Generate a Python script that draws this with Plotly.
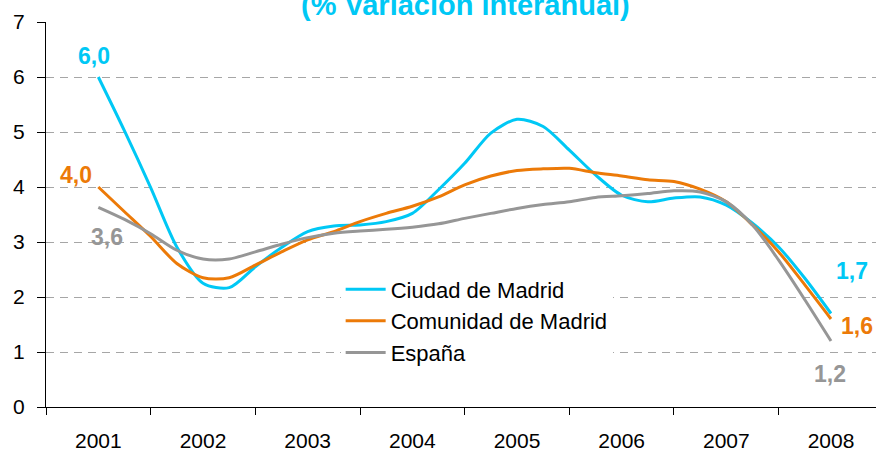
import plotly.graph_objects as go

years = ["2001", "2002", "2003", "2004", "2005", "2006", "2007", "2008"]
# quarterly observations, first at 2001 and last at 2008
quarters = [2001 + k / 4 for k in range(29)]

ciudad = [6.0, 5.02, 3.99, 2.91, 2.25, 2.17, 2.55, 2.9, 3.19, 3.29, 3.31, 3.37,
          3.52, 3.95, 4.43, 4.98, 5.23, 5.1, 4.67, 4.22, 3.85, 3.73, 3.8, 3.82,
          3.67, 3.34, 2.91, 2.34, 1.7]
comunidad = [4.0, 3.55, 3.1, 2.61, 2.35, 2.35, 2.58, 2.82, 3.04, 3.19, 3.37, 3.52,
             3.65, 3.82, 4.04, 4.2, 4.3, 4.33, 4.34, 4.26, 4.2, 4.13, 4.1, 3.96,
             3.73, 3.31, 2.82, 2.22, 1.6]
espana = [3.63, 3.41, 3.15, 2.85, 2.69, 2.69, 2.82, 2.96, 3.08, 3.16, 3.2, 3.23,
          3.27, 3.33, 3.43, 3.52, 3.61, 3.68, 3.73, 3.81, 3.84, 3.88, 3.93, 3.91,
          3.73, 3.31, 2.67, 1.95, 1.2]

names = ["Ciudad de Madrid", "Comunidad de Madrid", "España"]
colors = ["#00C8F5", "#EC7A08", "#969696"]
series = [ciudad, comunidad, espana]

FONT = "Liberation Sans, Arial, sans-serif"

fig = go.Figure()
for name, col, vals in zip(names, colors, series):
    fig.add_trace(go.Scatter(
        x=quarters, y=vals, name=name, mode="lines",
        line=dict(color=col, width=3, shape="spline", smoothing=0.8),
        hoverinfo="skip", cliponaxis=False))

def fmt(v):
    return f"{v:.1f}".replace(".", ",")

# end-point labels: (series index, point index, xshift, yshift)
label_spec = [(0, 0, -4, 21), (1, 0, -22, 12), (2, 0, 9, -30),
              (0, -1, 21, 43), (1, -1, 26, -7), (2, -1, -1, -33)]
annotations = []
for si, pi, xs, ys in label_spec:
    annotations.append(dict(
        x=quarters[pi], y=series[si][pi], xref="x", yref="y",
        text="<b>" + fmt(series[si][pi]) + "</b>", showarrow=False,
        xshift=xs, yshift=ys,
        font=dict(family=FONT, size=23, color=colors[si]),
        xanchor="center", yanchor="middle"))

annotations.append(dict(
    x=0.505, y=1, xref="paper", yref="paper", yanchor="bottom", xanchor="center",
    text="<b>(% Variación interanual)</b>", showarrow=False, yshift=-1,
    font=dict(family=FONT, size=29, color="#00C8F5")))

fig.update_layout(
    width=876, height=451,
    margin=dict(l=46, r=0, t=22, b=44, autoexpand=False),
    paper_bgcolor="white", plot_bgcolor="white",
    font=dict(family=FONT, color="black"),
    showlegend=True,
    legend=dict(x=0.355, y=0.36, xanchor="left", yanchor="top",
                bgcolor="white", borderwidth=0,
                font=dict(family=FONT, size=22, color="black"),
                tracegroupgap=0, itemwidth=40),
    annotations=annotations,
)

fig.update_xaxes(
    range=[2000.5, 2008.43], automargin=False,
    tickvals=[2001 + i for i in range(len(years))], ticktext=years,
    ticks="outside", ticklen=15, tickcolor="rgba(0,0,0,0)",
    tickfont=dict(family=FONT, size=21, color="black"),
    showgrid=False, zeroline=False,
    showline=True, linecolor="black", linewidth=1,
    minor=dict(tick0=2000.5, dtick=1, ticks="outside", ticklen=7,
               tickcolor="black", showgrid=False),
)
fig.update_yaxes(
    range=[0, 7], dtick=1, tick0=0, automargin=False,
    ticks="outside", ticklen=8, tickcolor="black",
    tickfont=dict(family=FONT, size=21, color="black"),
    ticklabelstandoff=8,
    showgrid=True, gridcolor="#A6A6A6", gridwidth=1, griddash="8px,6px",
    zeroline=False,
    showline=True, linecolor="black", linewidth=1,
)

# remove the default 8px page margin so the figure fills the window exactly
fig.write_html(
    "out.html",
    config={"displayModeBar": False},
    post_script="document.body.style.margin='0';document.body.style.overflow='hidden';",
)
